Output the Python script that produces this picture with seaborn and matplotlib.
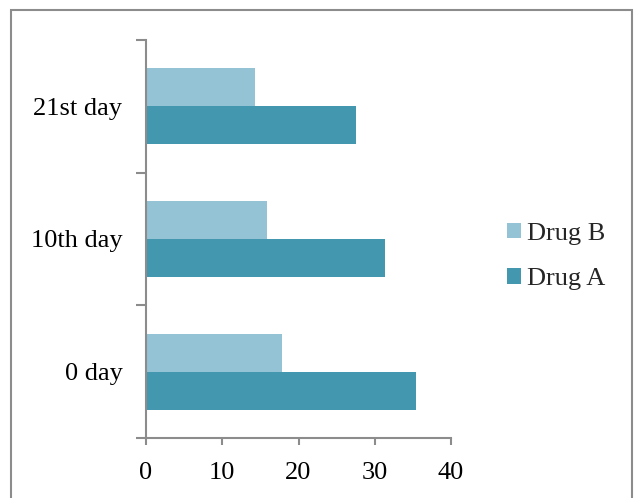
import matplotlib
matplotlib.use("Agg")
import matplotlib.pyplot as plt
import seaborn as sns
import pandas as pd
from matplotlib.patches import Rectangle, Patch
from matplotlib.ticker import FixedLocator

# Chart data
days = ["21st day", "10th day", "0 day"]
drug_b = [14.3, 15.9, 17.8]
drug_a = [27.5, 31.4, 35.4]
series = ["Drug B", "Drug A"]
colors = {"Drug B": "#93C3D4", "Drug A": "#4398B0"}
x_ticks = [0, 10, 20, 30, 40]

df = pd.DataFrame({
    "day": days * 2,
    "value": drug_b + drug_a,
    "drug": ["Drug B"] * len(days) + ["Drug A"] * len(days),
})

sns.set_theme(style="white")
plt.rcParams["font.family"] = ["Liberation Serif", "DejaVu Serif"]

FS = 19

fig = plt.figure(figsize=(6.36, 4.98), dpi=100)
ax = fig.add_axes([0.2296, 0.1205, 0.4796, 0.7992])

sns.barplot(
    data=df, y="day", x="value", hue="drug", order=days, hue_order=series,
    palette=colors, orient="h", width=0.572, saturation=1, ax=ax,
    legend=False, errorbar=None, linewidth=0,
)

axis_color = "#8C8C8C"
ax.set_xlim(0, 40)
ax.set_ylim(len(days) - 0.5, -0.5)
ax.set_xlabel("")
ax.set_ylabel("")
for side in ["top", "right"]:
    ax.spines[side].set_visible(False)
for side in ["left", "bottom"]:
    ax.spines[side].set_color(axis_color)
    ax.spines[side].set_linewidth(1.5)

ax.set_xticks(x_ticks)
ax.tick_params(axis="x", which="major", direction="out", length=5, width=1.5,
               color=axis_color, labelsize=FS, labelcolor="black", pad=12,
               bottom=True)
# Category labels without ticks; ticks at category boundaries
ax.tick_params(axis="y", which="major", length=0, labelsize=FS,
               labelcolor="black", pad=17)
ax.yaxis.set_minor_locator(FixedLocator([-0.5, 0.5, 1.5, 2.5]))
ax.tick_params(axis="y", which="minor", direction="out", length=7, width=1.5,
               color=axis_color, left=True)

# Legend
handles = [Patch(facecolor=colors[s], edgecolor="none", label=s) for s in series]
fig.legend(handles=handles, loc="center left", bbox_to_anchor=(0.760, 0.485),
           frameon=False, fontsize=FS, handlelength=0.53, handleheight=0.53,
           handletextpad=0.23, labelspacing=0.88)

# Outer frame
fig.patches.append(Rectangle((11 / 636, -0.05), 621 / 636, 1.05 - 10 / 498,
                             transform=fig.transFigure, fill=False,
                             edgecolor="#8C8C8C", linewidth=1.5))

fig.savefig("out.png", dpi=100)
